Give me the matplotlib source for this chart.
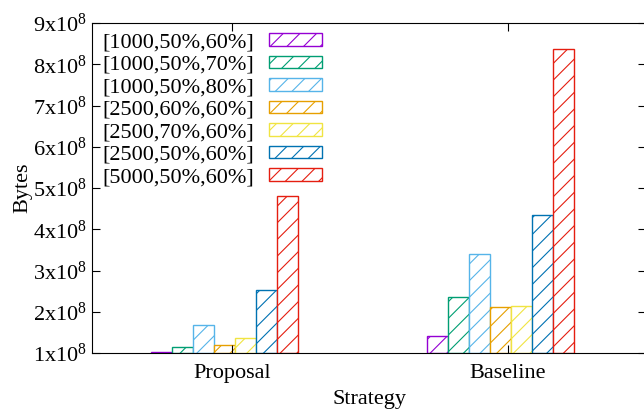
import matplotlib.pyplot as plt
import numpy as np

plt.rcParams['font.family'] = ['Liberation Serif', 'DejaVu Serif']
plt.rcParams['mathtext.default'] = 'regular'
plt.rcParams['hatch.linewidth'] = 0.8

categories = ['Proposal', 'Baseline']
series = ['[1000,50%,60%]', '[1000,50%,70%]', '[1000,50%,80%]',
          '[2500,60%,60%]', '[2500,70%,60%]', '[2500,50%,60%]',
          '[5000,50%,60%]']
values = [
    [1.02e8, 1.41e8],
    [1.14e8, 2.36e8],
    [1.67e8, 3.39e8],
    [1.19e8, 2.12e8],
    [1.36e8, 2.15e8],
    [2.52e8, 4.34e8],
    [4.81e8, 8.38e8],
]
colors = ['#9400d3', '#009e73', '#56b4e9', '#e69f00',
          '#f0e442', '#0072b2', '#e51e10']
yticks = [1e8, 2e8, 3e8, 4e8, 5e8, 6e8, 7e8, 8e8, 9e8]

fig = plt.figure(figsize=(6.44, 4.09), dpi=100)
ax = fig.add_axes([92/644, 1 - 353/409, 554/644, 330/409])

x = np.arange(len(categories))
w = 0.0757
offset = -0.027
base = 1e8
for i, (name, vals) in enumerate(zip(series, values)):
    pos = x + offset + (i - 3) * w
    heights = [v - base for v in vals]
    ax.bar(pos, heights, w, bottom=base, facecolor='white',
           edgecolor=colors[i], linewidth=1.0, hatch='//', label=name)

ax.set_xlim(-0.507, 1.50)
ax.set_ylim(1e8, 9e8)
ax.set_yticks(yticks)
ax.set_yticklabels(['$%dx10^{8}$' % int(t / 1e8) for t in yticks], fontsize=16)
ax.set_xticks(x)
ax.set_xticklabels(categories, fontsize=16)
ax.tick_params(direction='in', length=6, top=True, right=True, width=0.8)
ax.tick_params(axis='x', pad=8)
ax.set_ylabel('Bytes', fontsize=16)
ax.yaxis.set_label_coords(-0.107, 0.5)
ax.set_xlabel('Strategy', fontsize=16, labelpad=5)

ax.legend(loc='upper left', bbox_to_anchor=(0.0, 1.0), frameon=False,
          markerfirst=False, fontsize=16, handlelength=2.35,
          handleheight=0.5, labelspacing=0.15, borderaxespad=0.25,
          handletextpad=0.7, borderpad=0.2)

fig.savefig('out.png', dpi=100)
